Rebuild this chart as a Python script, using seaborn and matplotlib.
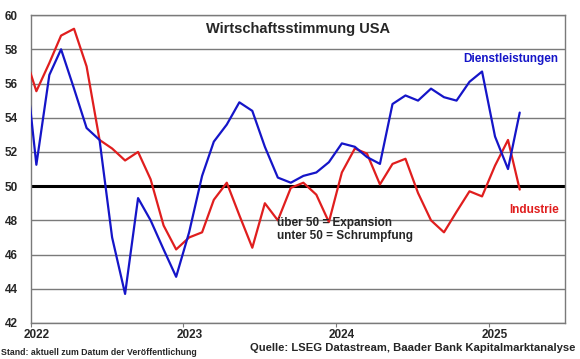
#%% libraries
import numpy as np
import pandas as pd
import seaborn as sns
import matplotlib.pyplot as plt
import matplotlib.transforms as mtransforms

#%% context
sns.set_theme(style="white")
plt.rcParams['font.family'] = ['Liberation Sans', 'DejaVu Sans']

#%% data (monthly, Dec 2021 - Mar 2025)
first_month = "2021-12-01"
dienstleistungen = [58.3, 51.25, 56.5, 58.0, 55.7, 53.4, 52.7, 47.0, 43.7, 49.3,
                    48.0, 46.3, 44.7, 47.3, 50.6, 52.6, 53.6, 54.9, 54.4, 52.3,
                    50.5, 50.2, 50.6, 50.8, 51.4, 52.5, 52.3, 51.7, 51.3, 54.8,
                    55.3, 55.0, 55.7, 55.2, 55.0, 56.1, 56.7, 52.9, 51.0, 54.3]
industrie = [57.9, 55.55, 57.2, 58.8, 59.2, 57.0, 52.7, 52.2, 51.5, 52.0,
             50.4, 47.7, 46.3, 47.0, 47.3, 49.2, 50.2, 48.3, 46.4, 49.0,
             48.0, 49.9, 50.2, 49.5, 47.9, 50.8, 52.2, 51.9, 50.1, 51.3,
             51.6, 49.6, 48.0, 47.3, 48.5, 49.7, 49.4, 51.2, 52.7, 49.8]
year_labels = ["2022", "2023", "2024", "2025"]
y_ticks = [42, 44, 46, 48, 50, 52, 54, 56, 58, 60]

# mid-month dates for the points
months = pd.date_range(first_month, periods=len(industrie), freq="MS") + pd.Timedelta(days=14)
df = pd.DataFrame({"Datum": months, "Dienstleistungen": dienstleistungen, "Industrie": industrie})

blue = "#1515c8"
red = "#e01e1e"
grey = "#7a7a7a"

#%% plot
fig, ax = plt.subplots(figsize=(5.8, 3.59), dpi=100)
fig.subplots_adjust(left=0.0526, right=0.974, top=0.958, bottom=0.1003)

for y in y_ticks:
    if y == 50:
        ax.axhline(y, color="black", lw=2.2, zorder=1)
    else:
        ax.axhline(y, color=grey, lw=1.0, zorder=1)

sns.lineplot(data=df, x="Datum", y="Industrie", color=red, lw=1.6, ax=ax, zorder=3)
sns.lineplot(data=df, x="Datum", y="Dienstleistungen", color=blue, lw=1.6, ax=ax, zorder=4)

ax.set_xlim(pd.Timestamp("2022-01-01"), pd.Timestamp("2025-07-01"))
ax.set_ylim(42, 60)
ax.set_xlabel("")
ax.set_ylabel("")

ax.set_yticks(y_ticks)
ax.set_yticklabels([str(v) for v in y_ticks], fontsize=8.5, fontweight="bold")
ax.tick_params(axis="y", length=0, pad=9)

ax.set_xticks([pd.Timestamp(f"{y}-01-01") for y in year_labels])
ax.set_xticklabels(year_labels, fontsize=8.5, fontweight="bold")
ax.tick_params(axis="x", length=3, width=0.8, color=grey, pad=1.5, bottom=True)
shift = mtransforms.ScaledTranslation(0.06, 0, fig.dpi_scale_trans)
for lab in ax.get_xticklabels():
    lab.set_transform(lab.get_transform() + shift)

for s in ax.spines.values():
    s.set_color(grey)
    s.set_linewidth(1.0)

# texts
ax.text(0.5, 0.955, "Wirtschaftsstimmung USA", transform=ax.transAxes,
        ha="center", va="center", fontsize=10.5, fontweight="bold")
ax.text(0.988, 57.45, "Dienstleistungen", transform=ax.get_yaxis_transform(),
        ha="right", va="center", fontsize=8.5, fontweight="bold", color=blue)
ax.text(0.988, 48.6, "Industrie", transform=ax.get_yaxis_transform(),
        ha="right", va="center", fontsize=8.5, fontweight="bold", color=red)
ax.text(0.462, 47.45, "über 50 = Expansion\nunter 50 = Schrumpfung",
        transform=ax.get_yaxis_transform(), ha="left", va="center",
        fontsize=8.5, fontweight="bold", linespacing=1.15)

fig.text(0.002, 0.018, "Stand: aktuell zum Datum der Veröffentlichung",
         ha="left", va="center", fontsize=6.3, fontweight="bold")
fig.text(0.992, 0.03, "Quelle: LSEG Datastream, Baader Bank Kapitalmarktanalyse",
         ha="right", va="center", fontsize=8.1, fontweight="bold")

fig.savefig("out.png", dpi=100)
